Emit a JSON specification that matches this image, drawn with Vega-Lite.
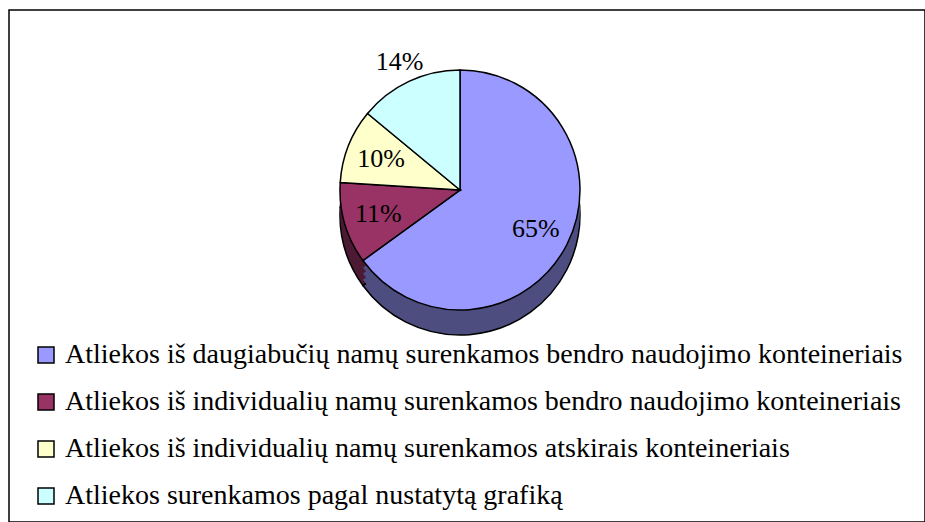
{
  "$schema": "https://vega.github.io/schema/vega-lite/v6.json",
  "width": 916,
  "height": 512,
  "autosize": "none",
  "padding": {"left": 9, "top": 10, "right": 0, "bottom": 0},
  "background": "white",
  "view": {"stroke": "black", "strokeWidth": 1.5, "fill": "white"},
  "config": {
    "view": {"stroke": "black", "strokeWidth": 1.5},
    "style": {"cell": {"stroke": "black", "strokeWidth": 1.5}},
    "font": "Liberation Serif",
    "legend": {"labelFont": "Liberation Serif"}
  },
  "data": {
    "values": [
      {"n": 1, "cat": "Atliekos iš daugiabučių namų surenkamos bendro naudojimo konteineriais", "value": 0.65},
      {"n": 2, "cat": "Atliekos iš individualių namų surenkamos bendro naudojimo konteineriais", "value": 0.11},
      {"n": 3, "cat": "Atliekos iš individualių namų surenkamos atskirais konteineriais", "value": 0.10},
      {"n": 4, "cat": "Atliekos surenkamos pagal nustatytą grafiką", "value": 0.14}
    ]
  },
  "layer": [
    {
      "mark": {"type": "arc", "radius": 120, "xOffset": -7, "yOffset": -51, "stroke": "black", "strokeWidth": 1.5},
      "encoding": {
        "theta": {"field": "value", "type": "quantitative", "stack": true},
        "order": {"field": "n", "type": "quantitative"},
        "fill": {"field": "cat", "type": "nominal", "sort": null, "legend": null,
          "scale": {"range": ["#4D4D80", "#4D1A33", "#808066", "#668080"]}}
      }
    },
    {
      "mark": {"type": "arc", "radius": 120, "xOffset": -7, "yOffset": -57, "strokeWidth": 0},
      "encoding": {
        "theta": {"field": "value", "type": "quantitative", "stack": true},
        "order": {"field": "n", "type": "quantitative"},
        "fill": {"field": "cat", "type": "nominal", "sort": null, "legend": null}
      }
    },
    {
      "mark": {"type": "arc", "radius": 120, "xOffset": -7, "yOffset": -63, "strokeWidth": 0},
      "encoding": {
        "theta": {"field": "value", "type": "quantitative", "stack": true},
        "order": {"field": "n", "type": "quantitative"},
        "fill": {"field": "cat", "type": "nominal", "sort": null, "legend": null}
      }
    },
    {
      "mark": {"type": "arc", "radius": 120, "xOffset": -7, "yOffset": -69, "strokeWidth": 0},
      "encoding": {
        "theta": {"field": "value", "type": "quantitative", "stack": true},
        "order": {"field": "n", "type": "quantitative"},
        "fill": {"field": "cat", "type": "nominal", "sort": null, "legend": null}
      }
    },
    {
      "mark": {"type": "arc", "radius": 120, "xOffset": -7, "yOffset": -76, "stroke": "black", "strokeWidth": 1.5},
      "encoding": {
        "theta": {"field": "value", "type": "quantitative", "stack": true},
        "order": {"field": "n", "type": "quantitative"},
        "color": {"field": "cat", "type": "nominal", "sort": null,
          "scale": {"range": ["#9999FF", "#993366", "#FFFFCC", "#CCFFFF"]},
          "legend": {
            "title": null, "orient": "none", "legendX": 23, "legendY": 331,
            "direction": "vertical", "symbolType": "square", "symbolSize": 256,
            "symbolStrokeColor": "black", "symbolStrokeWidth": 1.5, "symbolOpacity": 1,
            "labelFont": "Liberation Serif", "labelFontSize": 28, "labelColor": "black",
            "labelLimit": 0, "labelOffset": 5, "rowPadding": 19, "padding": 0
          }}
      }
    },
    {
      "mark": {"type": "text", "radius": 85, "xOffset": -7, "yOffset": -76, "font": "Liberation Serif", "fontSize": 26, "color": "black", "align": "center", "baseline": "middle"},
      "encoding": {
        "theta": {"field": "value", "type": "quantitative", "stack": true},
        "order": {"field": "n", "type": "quantitative"},
        "text": {"condition": {"test": "datum.n == 4", "value": ""}, "field": "value", "type": "quantitative", "format": ".0%"}
      }
    },
    {
      "mark": {"type": "text", "radius": 142, "xOffset": -7, "yOffset": -76, "font": "Liberation Serif", "fontSize": 26, "color": "black", "align": "center", "baseline": "middle"},
      "encoding": {
        "theta": {"field": "value", "type": "quantitative", "stack": true},
        "order": {"field": "n", "type": "quantitative"},
        "text": {"condition": {"test": "datum.n != 4", "value": ""}, "field": "value", "type": "quantitative", "format": ".0%"}
      }
    }
  ]
}
